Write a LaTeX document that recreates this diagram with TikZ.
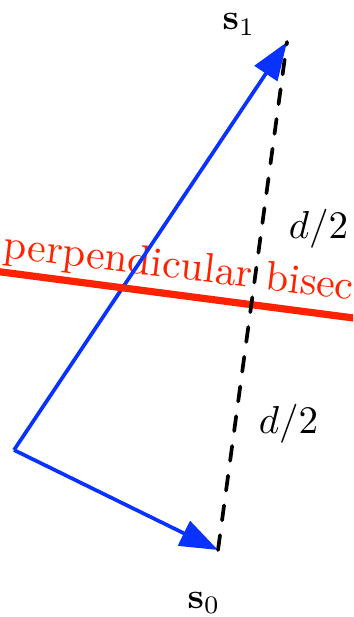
\documentclass[tikz,border=0pt]{standalone}
\usetikzlibrary{arrows.meta}
\definecolor{vecblue}{RGB}{10,50,255}
\definecolor{bisred}{RGB}{255,34,0}
\tikzset{
  vec/.style={draw=vecblue,line width=3.7pt,-{Triangle[length=38pt,width=27pt]}},
  bis/.style={draw=bisred,line width=7.2pt},
  dist/.style={draw=black,line width=3.7pt,dash pattern=on 15pt off 15pt,line cap=round},
  lab/.style={inner sep=0pt,anchor=base west,scale=3.6},
  dlab/.style={inner sep=0pt,anchor=base west,scale=3.9},
  bislab/.style={inner sep=0pt,anchor=base west,text=bisred,rotate=-7,scale=4.16}
}
\begin{document}
\begin{tikzpicture}[x=1pt,y=-1pt]
\useasboundingbox (0,0) rectangle (353,617);
\clip (0,0) rectangle (353,617);
\coordinate (o) at (14,450);
\coordinate (s0) at (218,550);
\coordinate (s1) at (287,42);
\coordinate (bl) at (-10,270.5);
\coordinate (br) at (365,319.5);
\node[bislab] (bt) at (2,257) {perpendicular bisec};
\draw[vec] (o) -- (s0);
\draw[vec] (o) -- (s1);
\draw[bis] (bl) -- (br);
\draw[dist] (s0) -- (s1);
\node[lab] (l1) at (222,30) {$\mathbf{s}_1$};
\node[lab] (l0) at (187,608) {$\mathbf{s}_0$};
\node[dlab] (du) at (288,239) {$d/2$};
\node[dlab] (dl) at (258,433) {$d/2$};
\end{tikzpicture}
\end{document}
